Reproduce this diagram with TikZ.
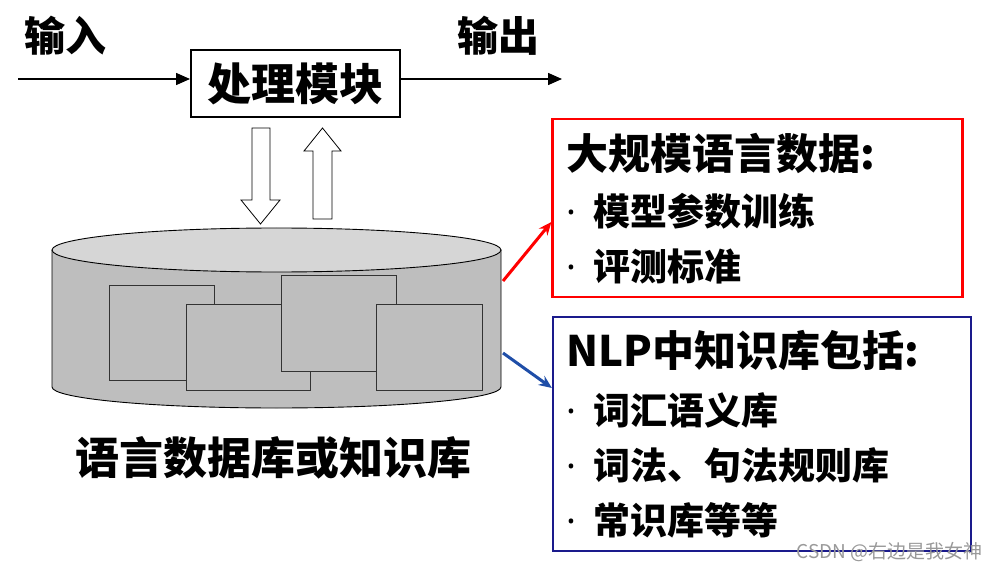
\documentclass[tikz,border=0pt]{standalone}
\usepackage{fontspec}
\setmainfont{Noto Sans CJK SC}
\newfontfamily\latinsans{Noto Sans}
\usetikzlibrary{arrows.meta,positioning}
\definecolor{scalered}{HTML}{FF0000}
\definecolor{kbnavy}{HTML}{1A1A8C}
\definecolor{kbblue}{HTML}{1F4EA8}
\definecolor{dbbody}{HTML}{BEBEBE}
\definecolor{dbtop}{HTML}{D6D6D6}
\newcommand{\dotmark}{\makebox[27pt][l]{\latinsans\bfseries ·}}

\begin{document}
\begin{tikzpicture}[x=1pt,y=-1pt,>=Latex,
procbox/.style={draw,line width=2pt,minimum width=209pt,minimum height=67pt,inner sep=0pt,font=\bfseries\fontsize{44}{48}\selectfont},
iolabel/.style={inner sep=0pt,font=\bfseries\fontsize{41}{44}\selectfont},
flow/.style={line width=1.5pt,-{Triangle[length=14pt,width=12pt]}},
hollow/.style={draw=black,fill=white,line width=0.8pt},
sheet/.style={draw=black!80,fill=dbbody,line width=0.8pt},
ttl/.style={inner sep=0pt,anchor=west,font=\bfseries\fontsize{42}{46}\selectfont},
itm/.style={inner sep=0pt,anchor=west,font=\bfseries\fontsize{37}{40}\selectfont},
infobox/.style={line width=2.2pt,inner sep=0pt}]
\useasboundingbox (0,0) rectangle (996,572);
% top row
\node[procbox] (proc) at (295.5,83.5) {处理模块};
\node[iolabel] (inlabel) at (65,36) {输入};
\node[iolabel] (outlabel) at (498,36) {输出};
\coordinate (in) at (18,79);
\coordinate (out) at (562,79);
\draw[flow] (in) -- (in -| proc.west);
\draw[flow] (proc.east |- out) -- (out);
% hollow arrows
\draw[hollow] (252,128) -- (270,128) -- (270,200) -- (280,200) -- (260.5,224) -- (241,200) -- (252,200) -- cycle;
\draw[hollow] (313,219) -- (332,219) -- (332,151) -- (341,151) -- (322.5,128) -- (304,151) -- (313,151) -- cycle;
% database cylinder
\draw[fill=dbbody,line width=0.9pt] (52,250) -- (52,387) arc[start angle=180,end angle=360,x radius=224.5pt,y radius=21pt] -- (501,250);
\draw[fill=dbtop,line width=0.9pt] (276.5,250) ellipse [x radius=224.5pt,y radius=22pt];
\draw[sheet] (109,285) rectangle (214,380);
\draw[sheet] (186,304) rectangle (310,390);
\draw[sheet] (281,275) rectangle (396,371);
\draw[sheet] (376,304) rectangle (482,390);
\node[inner sep=0pt,font=\bfseries\fontsize{44}{48}\selectfont] (dblabel) at (273,458) {语言数据库或知识库};
\coordinate (dbr1) at (503,281);
\coordinate (dbr2) at (503,353);
% right boxes
\node[infobox,draw=scalered,minimum width=410pt,minimum height=178pt] (scale) at (757.5,208) {};
\node[ttl] (scaletitle) at (566,153) {大规模语言数据:};
\node[itm] (scale1) at (566,211) {\dotmark 模型参数训练};
\node[itm] (scale2) at (566,266) {\dotmark 评测标准};
\node[infobox,draw=kbnavy,minimum width=418pt,minimum height=234pt] (kb) at (762,434) {};
\node[ttl] (kbtitle) at (566,350) {NLP中知识库包括:};
\node[itm] (kb1) at (566,410) {\dotmark 词汇语义库};
\node[itm] (kb2) at (566,465) {\dotmark 词法、句法规则库};
\node[itm] (kb3) at (566,520) {\dotmark 常识库等等};
\draw[scalered,line width=3pt,-{Stealth[length=13pt,width=11pt]}] (dbr1) -- ([yshift=-14pt]scale.west);
\draw[kbblue,line width=3pt,-{Stealth[length=13pt,width=11pt]}] (dbr2) -- ([yshift=46pt]kb.west);
\node[anchor=east,inner sep=0pt,text=black!40,font=\fontsize{19}{21}\selectfont] (mark) at (983,552) {CSDN @右边是我女神};
\end{tikzpicture}
\end{document}
